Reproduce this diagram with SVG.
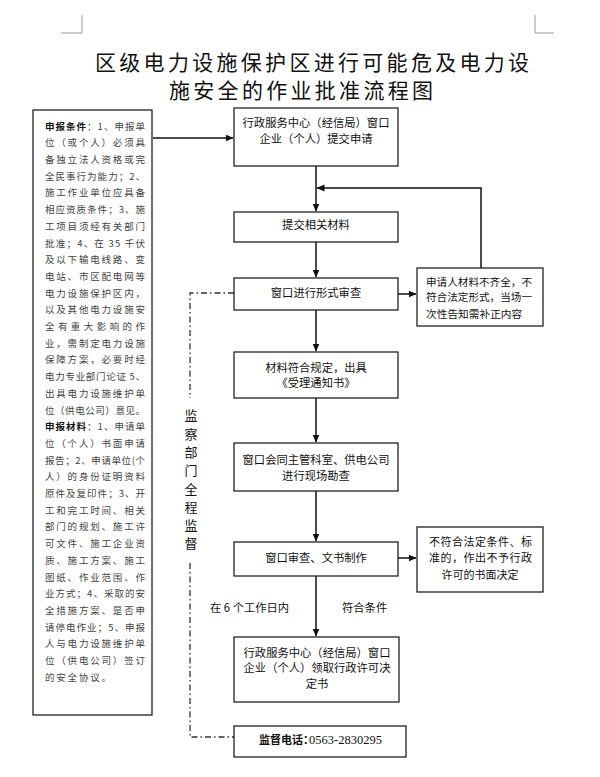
<svg xmlns="http://www.w3.org/2000/svg" width="600" height="777" viewBox="0 0 600 777">
<defs>
<marker id="arr" markerUnits="userSpaceOnUse" markerWidth="8" markerHeight="8" refX="7.5" refY="3.5" orient="auto">
<path d="M0,0 L8,3.5 L0,7 z" fill="#111"/>
</marker>
<style>
.box{fill:#fff;stroke:#222;stroke-width:1.3}
.t{font-family:"Noto Sans CJK SC","Noto Sans",sans-serif;font-size:11.3px;fill:#111}
.c{text-anchor:middle}
.lt{font-family:"Noto Sans CJK SC","Noto Sans",sans-serif;font-size:9.5px;fill:#444}
.b{font-weight:bold;fill:#111}
.con{fill:none;stroke:#111;stroke-width:1.5}
.dash{fill:none;stroke:#333;stroke-width:1.3;stroke-dasharray:6 3 1.5 3}
.title{font-family:"Noto Sans CJK SC","Noto Sans",sans-serif;font-size:21px;letter-spacing:3.3px;fill:#111}
.mark{fill:none;stroke:#999;stroke-width:1}
</style>
</defs>
<rect width="600" height="777" fill="#fff"/>
<g id="marks">
<path class="mark" d="M61,33 H82 V15"/>
<path class="mark" d="M535,15 V33 H554"/>
</g>
<g id="title">
<text class="title" x="95" y="69.5">区级电力设施保护区进行可能危及电力设</text>
<text class="title" x="169" y="98">施安全的作业批准流程图</text>
</g>
<g id="connectors">
<path class="con" d="M153,138 H233" marker-end="url(#arr)"/>
<path class="con" d="M316,166 V211" marker-end="url(#arr)"/>
<path class="con" d="M316,242 V277" marker-end="url(#arr)"/>
<path class="con" d="M316,310 V351" marker-end="url(#arr)"/>
<path class="con" d="M316,398 V442" marker-end="url(#arr)"/>
<path class="con" d="M316,491 V541" marker-end="url(#arr)"/>
<path class="con" d="M316,576 V636" marker-end="url(#arr)"/>
<path class="con" d="M398,294 H416" marker-end="url(#arr)"/>
<path class="con" d="M398,558 H416" marker-end="url(#arr)"/>
<path class="con" d="M481,268 V188 H317" marker-end="url(#arr)"/>
<path class="dash" d="M234,293 H190 V398"/>
<path class="dash" d="M190,563 V737 H234"/>
</g>
<g id="left-box">
<rect class="box" x="33" y="110" width="119" height="605"/>
<text class="lt" x="45" y="129.6" textLength="100" lengthAdjust="spacing"><tspan class="b">申报条件</tspan>：1、申报单</text>
<text class="lt" x="45" y="146.3" textLength="100" lengthAdjust="spacing">位（或个人）必须具</text>
<text class="lt" x="45" y="163" textLength="100" lengthAdjust="spacing">备独立法人资格或完</text>
<text class="lt" x="45" y="179.7" textLength="100" lengthAdjust="spacing">全民事行为能力；2、</text>
<text class="lt" x="45" y="196.4" textLength="100" lengthAdjust="spacing">施工作业单位应具备</text>
<text class="lt" x="45" y="213.1" textLength="100" lengthAdjust="spacing">相应资质条件；3、施</text>
<text class="lt" x="45" y="229.8" textLength="100" lengthAdjust="spacing">工项目须经有关部门</text>
<text class="lt" x="45" y="246.5" textLength="100" lengthAdjust="spacing">批准；4、在 35 千伏</text>
<text class="lt" x="45" y="263.2" textLength="100" lengthAdjust="spacing">及以下输电线路、变</text>
<text class="lt" x="45" y="279.9" textLength="100" lengthAdjust="spacing">电站、市区配电网等</text>
<text class="lt" x="45" y="296.6" textLength="100" lengthAdjust="spacing">电力设施保护区内，</text>
<text class="lt" x="45" y="313.3" textLength="100" lengthAdjust="spacing">以及其他电力设施安</text>
<text class="lt" x="45" y="330" textLength="100" lengthAdjust="spacing">全有重大影响的作</text>
<text class="lt" x="45" y="346.7" textLength="100" lengthAdjust="spacing">业，需制定电力设施</text>
<text class="lt" x="45" y="363.4" textLength="100" lengthAdjust="spacing">保障方案，必要时经</text>
<text class="lt" x="45" y="380.1" textLength="100" lengthAdjust="spacing">电力专业部门论证 5、</text>
<text class="lt" x="45" y="396.8" textLength="100" lengthAdjust="spacing">出具电力设施维护单</text>
<text class="lt" x="45" y="413.5" textLength="100" lengthAdjust="spacing">位（供电公司）意见。</text>
<text class="lt" x="45" y="430.2" textLength="100" lengthAdjust="spacing"><tspan class="b">申报材料</tspan>：1、申请单</text>
<text class="lt" x="45" y="446.9" textLength="100" lengthAdjust="spacing">位（个人）书面申请</text>
<text class="lt" x="45" y="463.6" textLength="100" lengthAdjust="spacing">报告；2、申请单位(个</text>
<text class="lt" x="45" y="480.3" textLength="100" lengthAdjust="spacing">人）的身份证明资料</text>
<text class="lt" x="45" y="497" textLength="100" lengthAdjust="spacing">原件及复印件；3、开</text>
<text class="lt" x="45" y="513.7" textLength="100" lengthAdjust="spacing">工和完工时间、相关</text>
<text class="lt" x="45" y="530.4" textLength="100" lengthAdjust="spacing">部门的规划、施工许</text>
<text class="lt" x="45" y="547.1" textLength="100" lengthAdjust="spacing">可文件、施工企业资</text>
<text class="lt" x="45" y="563.8" textLength="100" lengthAdjust="spacing">质、施工方案、施工</text>
<text class="lt" x="45" y="580.5" textLength="100" lengthAdjust="spacing">图纸、作业范围、作</text>
<text class="lt" x="45" y="597.2" textLength="100" lengthAdjust="spacing">业方式；4、采取的安</text>
<text class="lt" x="45" y="613.9" textLength="100" lengthAdjust="spacing">全措施方案、是否申</text>
<text class="lt" x="45" y="630.6" textLength="100" lengthAdjust="spacing">请停电作业；5、申报</text>
<text class="lt" x="45" y="647.3" textLength="100" lengthAdjust="spacing">人与电力设施维护单</text>
<text class="lt" x="45" y="664" textLength="100" lengthAdjust="spacing">位（供电公司）签订</text>
<text class="lt" x="45" y="680.7" textLength="66" lengthAdjust="spacing">的安全协议。</text>
</g>
<g id="supervise-label">
<text class="t c" style="font-size:13px" x="191" y="420">监</text>
<text class="t c" style="font-size:13px" x="191" y="438.5">察</text>
<text class="t c" style="font-size:13px" x="191" y="457">部</text>
<text class="t c" style="font-size:13px" x="191" y="475">门</text>
<text class="t c" style="font-size:13px" x="191" y="493.5">全</text>
<text class="t c" style="font-size:13px" x="191" y="512">程</text>
<text class="t c" style="font-size:13px" x="191" y="530">监</text>
<text class="t c" style="font-size:13px" x="191" y="548">督</text>
</g>
<g id="node-apply">
<rect class="box" x="234" y="108" width="164" height="58"/>
<text class="t c" x="316" y="127.4">行政服务中心（经信局）窗口</text>
<text class="t c" x="316" y="143.4">企业（个人）提交申请</text>
</g>
<g id="node-submit">
<rect class="box" x="234" y="212" width="164" height="30"/>
<text class="t c" x="316" y="229.4">提交相关材料</text>
</g>
<g id="node-review">
<rect class="box" x="234" y="278" width="164" height="32"/>
<text class="t c" x="316" y="297.4">窗口进行形式审查</text>
</g>
<g id="node-accept">
<rect class="box" x="234" y="352" width="164" height="46"/>
<text class="t c" x="316" y="372.4">材料符合规定，出具</text>
<text class="t c" x="316" y="387.4">《受理通知书》</text>
</g>
<g id="node-survey">
<rect class="box" x="234" y="443" width="164" height="48"/>
<text class="t c" x="316" y="464.4">窗口会同主管科室、供电公司</text>
<text class="t c" x="316" y="480.4">进行现场勘查</text>
</g>
<g id="node-document">
<rect class="box" x="234" y="542" width="164" height="34"/>
<text class="t c" x="316" y="562.4">窗口审查、文书制作</text>
</g>
<g id="node-collect">
<rect class="box" x="234" y="637" width="165" height="65"/>
<text class="t c" x="317" y="657.4">行政服务中心（经信局）窗口</text>
<text class="t c" x="317" y="672.4">企业（个人）领取行政许可决</text>
<text class="t c" x="317" y="688.4">定书</text>
</g>
<g id="node-phone">
<rect class="box" x="234" y="726" width="172" height="31"/>
<text class="t" x="259" y="744.4" style="font-weight:bold;font-size:11px">监督电话：</text>
<text x="309" y="744.4" style="font-family:'Liberation Serif',serif;font-size:12.5px;fill:#111">0563-2830295</text>
</g>
<g id="node-incomplete">
<rect class="box" x="417" y="268" width="126" height="58"/>
<text class="t" style="font-size:10.7px" x="426" y="286" textLength="106" lengthAdjust="spacingAndGlyphs">申请人材料不齐全，不</text>
<text class="t" style="font-size:10.7px" x="426" y="301" textLength="106" lengthAdjust="spacingAndGlyphs">符合法定形式，当场一</text>
<text class="t" style="font-size:10.7px" x="426" y="318">次性告知需补正内容</text>
</g>
<g id="node-reject">
<rect class="box" x="417" y="527" width="126" height="65"/>
<text class="t" style="font-size:11px" x="429" y="546.2" textLength="103" lengthAdjust="spacing">不符合法定条件、标</text>
<text class="t" style="font-size:11px" x="429" y="562.2" textLength="103" lengthAdjust="spacing">准的，作出不予行政</text>
<text class="t c" style="font-size:11px" x="480" y="579.2">许可的书面决定</text>
</g>
<g id="labels">
<text class="t" x="210" y="612.4">在 6 个工作日内</text>
<text class="t" x="342" y="612.4">符合条件</text>
</g>
</svg>
